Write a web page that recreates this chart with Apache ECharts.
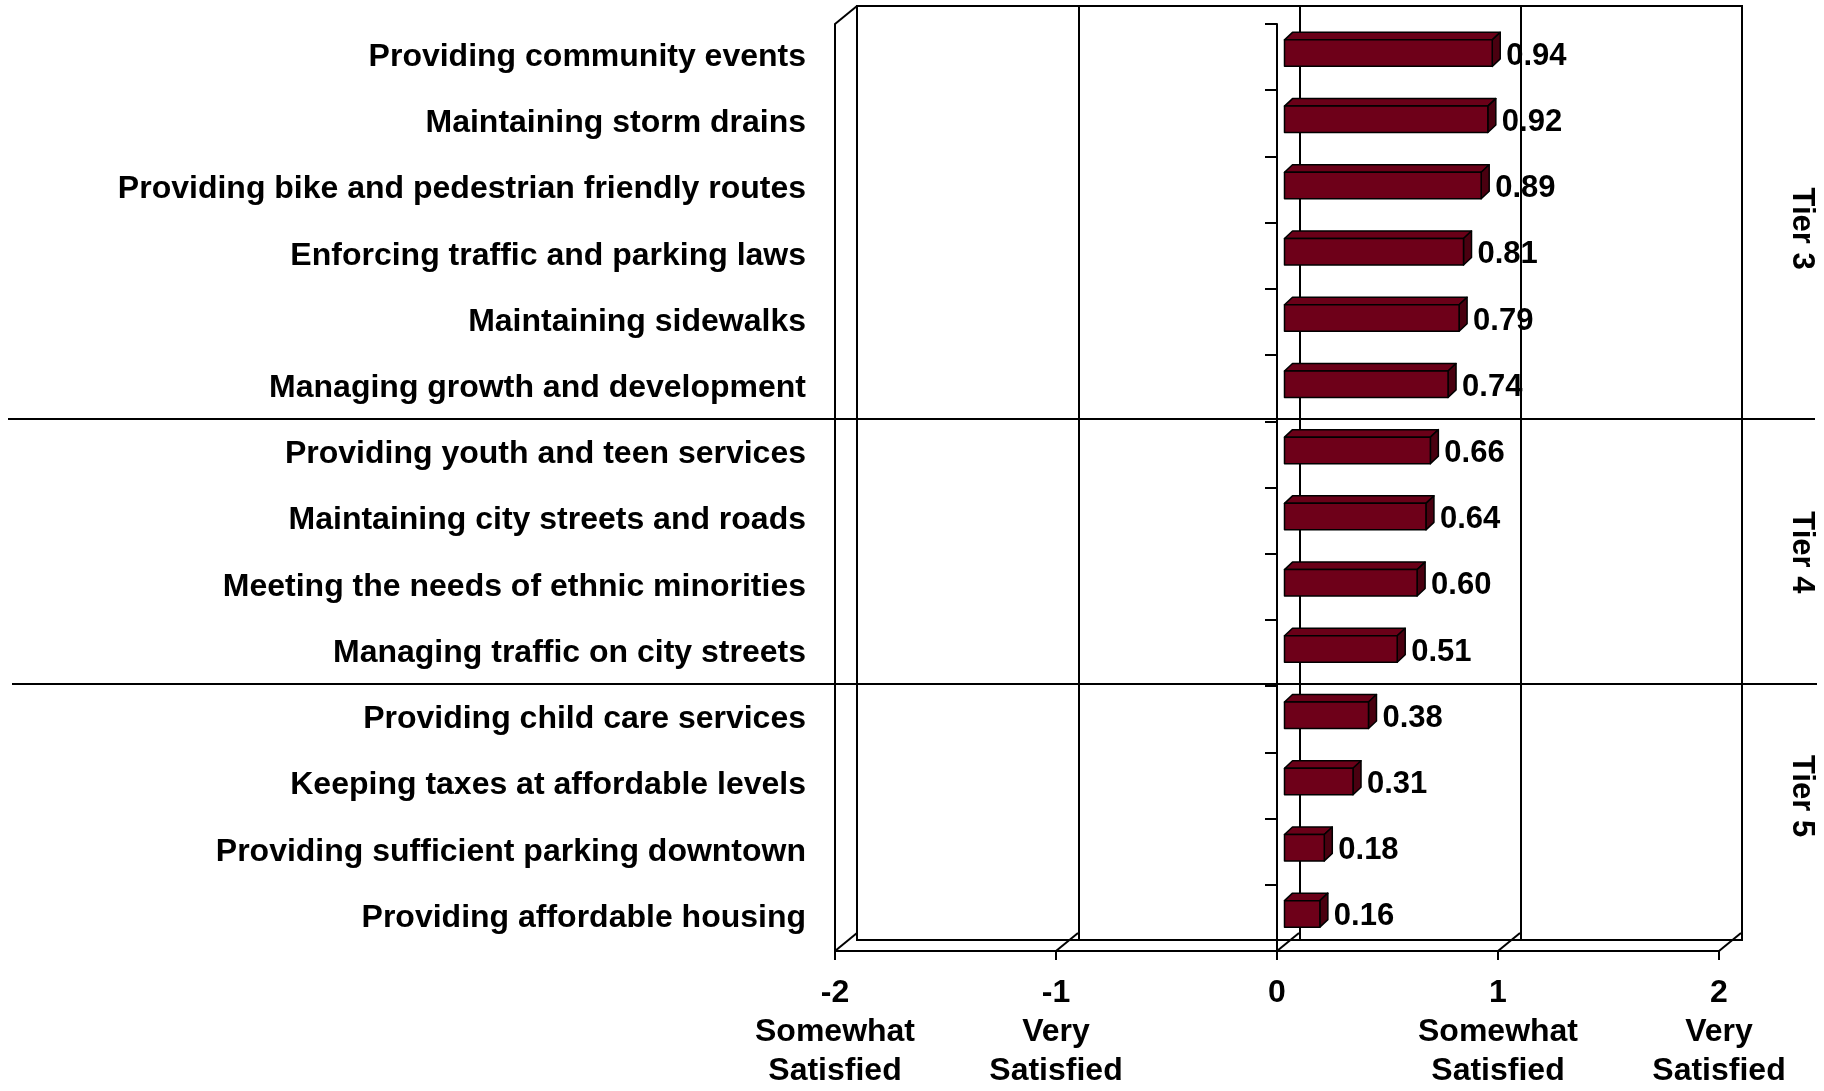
<!DOCTYPE html>
<html>
<head>
<meta charset="utf-8">
<script src="https://cdn.jsdelivr.net/npm/echarts@6/dist/echarts.min.js"></script>
<style>
  html, body { margin: 0; padding: 0; background: #ffffff; }
  #chart { width: 1824px; height: 1091px; }
</style>
</head>
<body>
<div id="chart"></div>
<script>
// Services, top to bottom
const categories = [
  'Providing community events',
  'Maintaining storm drains',
  'Providing bike and pedestrian friendly routes',
  'Enforcing traffic and parking laws',
  'Maintaining sidewalks',
  'Managing growth and development',
  'Providing youth and teen services',
  'Maintaining city streets and roads',
  'Meeting the needs of ethnic minorities',
  'Managing traffic on city streets',
  'Providing child care services',
  'Keeping taxes at affordable levels',
  'Providing sufficient parking downtown',
  'Providing affordable housing'
];

// Mean satisfaction score per service
const scores = [0.94, 0.92, 0.89, 0.81, 0.79, 0.74, 0.66, 0.64, 0.60, 0.51, 0.38, 0.31, 0.18, 0.16];

// Satisfaction scale ticks and their captions
const tickValues = [-2, -1, 0, 1, 2];
const tickCaptions = ['Somewhat\nSatisfied', 'Very\nSatisfied', '', 'Somewhat\nSatisfied', 'Very\nSatisfied'];

// Tier groups: names and the category index where each following tier starts
const tierNames = ['Tier 3', 'Tier 4', 'Tier 5'];
const tierBreaks = [6, 10];

// ---- drawing constants ----
const FONT = 'Liberation Sans, Arial, sans-serif';
const INK = '#000000';
const WALL_DX = 22, WALL_DY = 18;     // depth of the 3-D box
const FACE_DX = 7.5, FACE_DY = -4;    // front face of a bar inside the box
const BAR_DX = 8, BAR_DY = 7.5;       // depth of a bar
const BAR_FRONT = '#6e0019', BAR_TOP = '#6a0018', BAR_SIDE = '#4a0010';
const TIER_LABEL_POS = [3.09, 7.98, 11.66]; // in category bands from the top

const chart = echarts.init(document.getElementById('chart'), null, { renderer: 'canvas' });

function renderBar(params, api) {
  const v = api.value(0);
  const i = api.value(1);
  const base = api.coord([0, i]);
  const end = api.coord([v, i]);
  const band = api.size([0, 1])[1];
  const h = band * 0.4;
  const L = base[0] + FACE_DX, R = end[0] + FACE_DX;
  const cy = base[1] + FACE_DY;
  const T = cy - h / 2, B = cy + h / 2;
  const edge = { stroke: '#000', lineWidth: 1.5, lineJoin: 'round' };
  return {
    type: 'group',
    children: [
      { type: 'polygon', shape: { points: [[L, T], [R, T], [R + BAR_DX, T - BAR_DY], [L + BAR_DX, T - BAR_DY]] },
        style: Object.assign({ fill: BAR_TOP }, edge) },
      { type: 'polygon', shape: { points: [[R, T], [R + BAR_DX, T - BAR_DY], [R + BAR_DX, B - BAR_DY], [R, B]] },
        style: Object.assign({ fill: BAR_SIDE }, edge) },
      { type: 'rect', shape: { x: L, y: T, width: R - L, height: h },
        style: Object.assign({ fill: BAR_FRONT }, edge) },
      { type: 'text', x: R + BAR_DX + 6, y: cy + 3,
        style: { text: v.toFixed(2), fill: INK, font: 'bold 31px ' + FONT, align: 'left', verticalAlign: 'middle' } }
    ]
  };
}

// Floor depth edges at each scale tick plus the top edge of the left wall
function renderBox(params, api) {
  const band = api.size([0, 1])[1];
  const last = categories.length - 1;
  const children = [];
  const st = { stroke: INK, lineWidth: 2 };
  tickValues.forEach(function (t) {
    const p = api.coord([t, last]);
    const yb = p[1] + band / 2;
    children.push({ type: 'line', shape: { x1: p[0], y1: yb, x2: p[0] + WALL_DX, y2: yb - WALL_DY }, style: st });
  });
  const q = api.coord([tickValues[0], 0]);
  const yt = q[1] - band / 2;
  children.push({ type: 'line', shape: { x1: q[0], y1: yt, x2: q[0] + WALL_DX, y2: yt - WALL_DY }, style: st });
  return { type: 'group', children: children };
}

const option = {
  backgroundColor: '#ffffff',
  animation: false,
  grid: [
    // front plane
    { left: 835, right: 105, top: 24, bottom: 133, show: false },
    // back wall
    { left: 857, right: 82, top: 6, bottom: 151, show: true, borderColor: INK, borderWidth: 2, backgroundColor: 'transparent' }
  ],
  xAxis: [
    {
      type: 'value', gridIndex: 0, min: -2, max: 2, interval: 1,
      splitLine: { show: false },
      axisLine: { show: true, onZero: false, lineStyle: { color: INK, width: 2 } },
      axisTick: { show: true, length: 9, lineStyle: { color: INK, width: 2 } },
      axisLabel: {
        show: true, margin: 23, color: INK, fontFamily: FONT, fontWeight: 'bold', fontSize: 32, lineHeight: 39,
        formatter: function (val) {
          const k = tickValues.indexOf(val);
          const cap = k >= 0 ? tickCaptions[k] : '';
          return cap ? val + '\n' + cap : String(val);
        }
      }
    },
    {
      type: 'value', gridIndex: 1, min: -2, max: 2, interval: 1,
      splitLine: { show: true, lineStyle: { color: INK, width: 2 } },
      axisLine: { show: false }, axisTick: { show: false }, axisLabel: { show: false }
    }
  ],
  yAxis: [
    {
      // category axis standing at zero on the front plane
      type: 'category', gridIndex: 0, data: categories, inverse: true, position: 'left',
      axisLine: { show: true, onZero: true, lineStyle: { color: INK, width: 2 } },
      axisTick: { show: true, length: 12, lineStyle: { color: INK, width: 2 } },
      axisLabel: { show: false }
    },
    {
      // service names along the left wall
      type: 'category', gridIndex: 0, data: categories, inverse: true, position: 'left',
      axisLine: { show: true, onZero: false, lineStyle: { color: INK, width: 2 } },
      axisTick: { show: false },
      axisLabel: { show: true, margin: 29, padding: [7, 0, 0, 0], color: INK, fontFamily: FONT, fontWeight: 'bold', fontSize: 32 }
    },
    {
      type: 'category', gridIndex: 1, data: categories, inverse: true, show: false
    }
  ],
  series: [
    {
      type: 'custom', name: 'box', xAxisIndex: 0, yAxisIndex: 0, clip: false, silent: true, z: 1,
      renderItem: renderBox, data: [[0, 0]], encode: { x: 0, y: 1 }
    },
    {
      type: 'custom', name: 'score', xAxisIndex: 0, yAxisIndex: 0, clip: false, z: 3,
      renderItem: renderBar,
      data: scores.map(function (v, i) { return [v, i]; }),
      encode: { x: 0, y: 1 }
    }
  ]
};

chart.setOption(option);

// Tier separators and tier names, placed on the category bands
const c0 = chart.convertToPixel({ yAxisIndex: 0 }, categories[0]);
const cN = chart.convertToPixel({ yAxisIndex: 0 }, categories[categories.length - 1]);
const band = (cN - c0) / (categories.length - 1);
const bandTop = c0 - band / 2;
const graphics = [];
tierBreaks.forEach(function (k, j) {
  const y = Math.round(bandTop + k * band) - 2;
  graphics.push({
    type: 'line', z: 10,
    shape: { x1: j === 0 ? 8 : 12, y1: y, x2: j === 0 ? 1815 : 1817, y2: y },
    style: { stroke: INK, lineWidth: 2 }
  });
});
tierNames.forEach(function (name, j) {
  graphics.push({
    type: 'text', z: 10, x: 1802, y: bandTop + TIER_LABEL_POS[j] * band, rotation: -Math.PI / 2,
    style: { text: name, fill: INK, font: 'bold 31px ' + FONT, align: 'center', verticalAlign: 'middle' }
  });
});
chart.setOption({ graphic: graphics });
</script>
</body>
</html>
